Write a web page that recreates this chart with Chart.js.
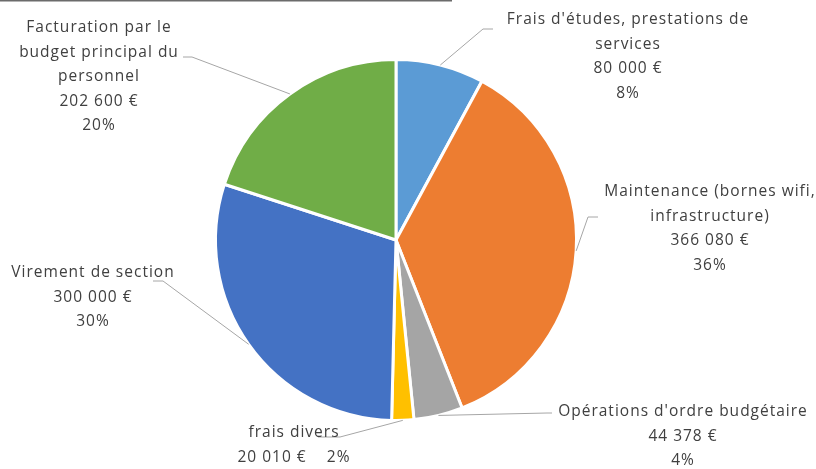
<!DOCTYPE html>
<html><head><meta charset="utf-8">
<script src="https://cdn.jsdelivr.net/npm/chart.js@4/dist/chart.umd.min.js"></script>
<style>html,body{margin:0;padding:0;background:#fff}#wrap{width:816px;height:469px;position:relative}</style>
</head><body><div id="wrap"><canvas id="c" width="816" height="469"></canvas></div>
<script>
const categories = [
  ["Frais d'études, prestations de", "services"],
  ["Maintenance (bornes wifi,", "infrastructure)"],
  ["Opérations d'ordre budgétaire"],
  ["frais divers"],
  ["Virement de section"],
  ["Facturation par le", "budget principal du", "personnel"]
];
const values = [80000, 366080, 44378, 20010, 300000, 202600];
const colors = ["#5B9BD5", "#ED7D31", "#A5A5A5", "#FFC000", "#4472C4", "#70AD47"];

const total = values.reduce((a, b) => a + b, 0);
const fmt = v => String(v).replace(/\B(?=(\d{3})+(?!\d))/g, " ") + " €";
const pct = v => Math.round(v / total * 100) + "%";

const layout = [
  {x: 628, y: 20, elbow: [483, 29], end: [493, 29]},
  {x: 710, y: 192, elbow: [588, 217], end: [598, 217]},
  {x: 683, y: 412, elbow: [547, 413], end: [552, 413]},
  {x: 294, y: 433, elbow: [340, 437], end: [318, 437], joined: true},
  {x: 93, y: 273, elbow: [163, 281], end: [153, 281]},
  {x: 99, y: 28, elbow: [192, 57], end: [183, 57]}
];
const LH = 24.5;

const labelPlugin = {
  id: 'labels',
  afterDatasetsDraw(chart) {
    const ctx = chart.ctx;
    const meta = chart.getDatasetMeta(0);
    ctx.save();
    ctx.strokeStyle = '#6b6b6b';
    ctx.lineWidth = 1.5;
    ctx.beginPath(); ctx.moveTo(0, 0.75); ctx.lineTo(452, 0.75); ctx.stroke();
    meta.data.forEach((arc, i) => {
      const L = layout[i];
      const mid = (arc.startAngle + arc.endAngle) / 2;
      const px = arc.x + Math.cos(mid) * arc.outerRadius;
      const py = arc.y + Math.sin(mid) * arc.outerRadius;
      ctx.strokeStyle = '#A6A6A6';
      ctx.lineWidth = 1;
      ctx.beginPath();
      ctx.moveTo(px, py);
      ctx.lineTo(L.elbow[0], L.elbow[1]);
      ctx.lineTo(L.end[0], L.end[1]);
      ctx.stroke();
      const lines = categories[i].slice();
      if (L.joined) lines.push(fmt(values[i]) + "    " + pct(values[i]));
      else { lines.push(fmt(values[i])); lines.push(pct(values[i])); }
      ctx.fillStyle = '#404040';
      ctx.font = '15.5px "Open Sans", sans-serif';
      ctx.letterSpacing = '1px';
      ctx.textAlign = 'center';
      ctx.textBaseline = 'middle';
      lines.forEach((t, k) => ctx.fillText(t, L.x, L.y + k * LH));
    });
    ctx.restore();
  }
};

new Chart(document.getElementById('c'), {
  type: 'pie',
  data: {
    labels: categories.map(c => c.join(' ')),
    datasets: [{data: values, backgroundColor: colors, borderColor: '#ffffff', borderWidth: 3}]
  },
  options: {
    responsive: false,
    animation: false,
    devicePixelRatio: 1,
    layout: {padding: {left: 214, right: 238, top: 58, bottom: 47}},
    plugins: {legend: {display: false}, tooltip: {enabled: false}}
  },
  plugins: [labelPlugin]
});
</script></body></html>
